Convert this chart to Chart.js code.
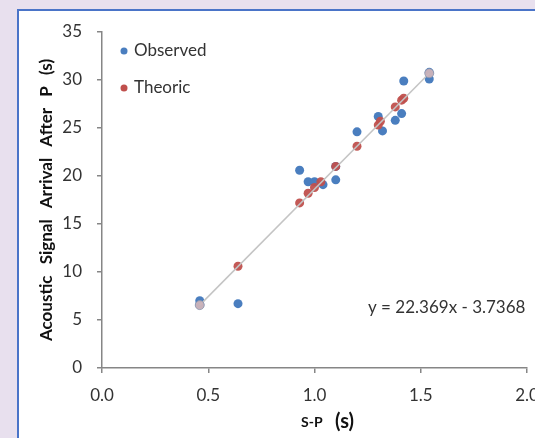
<!DOCTYPE html>
<html>
<head>
<meta charset="utf-8">
<script src="https://cdn.jsdelivr.net/npm/chart.js@4/dist/chart.umd.min.js"></script>
<style>
html,body{margin:0;padding:0;background:#e8e0ee;}
#wrap{width:535px;height:438px;position:relative;}
</style>
</head>
<body>
<div id="wrap"><canvas id="c" width="535" height="438"></canvas></div>
<script>
// ---- Data ----
const observedX = [0.46, 0.46, 0.64, 0.93, 0.97, 1.00, 1.04, 1.10, 1.10, 1.20, 1.30, 1.32, 1.38, 1.41, 1.42, 1.54, 1.54];
const observedY = [7.0, 6.6, 6.7, 20.6, 19.4, 19.4, 19.1, 19.6, 21.0, 24.6, 26.2, 24.7, 25.8, 26.5, 29.9, 30.1, 30.8];
const theoricX = [0.64, 0.93, 0.97, 1.00, 1.03, 1.10, 1.20, 1.30, 1.31, 1.38, 1.41, 1.42];
const theoricY = [10.6, 17.2, 18.2, 18.8, 19.4, 21.0, 23.1, 25.3, 25.7, 27.2, 27.9, 28.1];
const trendX = [0.46, 1.54];
const trendY = [6.55, 30.7];
const seriesNames = ["Observed", "Theoric"];
const xTicks = [0, 0.5, 1.0, 1.5, 2.0];
const yTicks = [0, 5, 10, 15, 20, 25, 30, 35];
const equationText = "y = 22.369x - 3.7368";
const xTitleMain = "S-P";
const xTitleUnit = "(s)";
const yTitle = "Acoustic Signal Arrival After P (s)";

const toPts = (xs, ys) => xs.map((x, i) => ({x: x, y: ys[i]}));
const BLUE = '#4a7ebf', RED = '#c0504d', AXIS = '#868686', TXT = '#333333';

const framePlugin = {
  id: 'frame',
  beforeDraw(chart) {
    const ctx = chart.ctx;
    ctx.save();
    ctx.fillStyle = '#e8e0ee';
    ctx.fillRect(0, 0, 535, 438);
    ctx.fillStyle = '#ffffff';
    ctx.fillRect(17, 9, 535, 438);
    ctx.fillStyle = '#4a74c8';
    ctx.fillRect(17, 9, 535, 2);
    ctx.fillRect(17, 9, 2, 438);
    ctx.restore();
  },
  afterDraw(chart) {
    const ctx = chart.ctx;
    const ys = chart.scales.y;
    ctx.save();
    // legend
    const items = [[seriesNames[0], BLUE, 51], [seriesNames[1], RED, 88]];
    ctx.font = '17px Lato';
    ctx.textBaseline = 'middle';
    ctx.textAlign = 'left';
    items.forEach(([t, c, y]) => {
      ctx.fillStyle = c;
      ctx.beginPath(); ctx.arc(124, y, 3.5, 0, Math.PI * 2); ctx.fill();
      ctx.fillStyle = TXT;
      ctx.fillText(t, 134, y);
    });
    // equation
    ctx.font = '17px Lato';
    ctx.textBaseline = 'alphabetic';
    ctx.fillText(equationText, 368, 313);
    // x title
    ctx.fillStyle = '#111111';
    ctx.font = 'bold 14px Lato';
    ctx.fillText(xTitleMain, 301, 427);
    ctx.font = 'bold 20px Lato';
    ctx.fillText(xTitleUnit, 335, 428);
    // y title
    ctx.translate(47, (ys.top + ys.bottom) / 2);
    ctx.rotate(-Math.PI / 2);
    ctx.font = 'bold 17px Lato';
    ctx.textAlign = 'center';
    ctx.textBaseline = 'middle';
    try { ctx.wordSpacing = '7px'; } catch (e) {}
    ctx.fillText(yTitle, 0, 0);
    ctx.restore();
  }
};

new Chart(document.getElementById('c'), {
  type: 'scatter',
  data: {
    datasets: [
      {label: 'Trend', type: 'line', data: toPts(trendX, trendY), borderColor: '#c4c4c4', borderWidth: 1.5,
       pointRadius: 4.5, pointBackgroundColor: 'rgba(205,180,185,0.95)', pointBorderColor: 'rgba(140,150,175,0.8)', pointBorderWidth: 1, fill: false, order: 0},
      {label: seriesNames[1], data: toPts(theoricX, theoricY), pointRadius: 4.5, pointBackgroundColor: 'rgba(192,80,77,0.95)', pointBorderColor: 'rgba(192,80,77,0.95)', pointBorderWidth: 0, order: 1},
      {label: seriesNames[0], data: toPts(observedX, observedY), pointRadius: 4.5, pointBackgroundColor: BLUE, pointBorderColor: BLUE, pointBorderWidth: 0, order: 2}
    ]
  },
  options: {
    responsive: false,
    animation: false,
    layout: {padding: {left: 62, right: 8, top: 32, bottom: 0}},
    plugins: {legend: {display: false}, tooltip: {enabled: false}},
    scales: {
      x: {
        type: 'linear', min: 0, max: 2,
        afterBuildTicks: s => { s.ticks = xTicks.map(v => ({value: v})); },
        afterFit: s => { s.height = 70; s.paddingLeft = 0; s.paddingRight = 0; },
        ticks: {color: TXT, font: {family: 'Lato', size: 17}, padding: 12, callback: v => Number(v).toFixed(1), maxRotation: 0},
        grid: {drawOnChartArea: false, drawTicks: true, tickLength: 5, color: AXIS, tickColor: AXIS, lineWidth: 1.5},
        border: {display: true, color: AXIS, width: 1.5}
      },
      y: {
        type: 'linear', min: 0, max: 35,
        afterBuildTicks: s => { s.ticks = yTicks.map(v => ({value: v})); },
        afterFit: s => { s.width = 40; s.paddingTop = 0; s.paddingBottom = 0; },
        ticks: {color: TXT, font: {family: 'Lato', size: 17}, padding: 15},
        grid: {drawOnChartArea: false, drawTicks: true, tickLength: 5, color: AXIS, tickColor: AXIS, lineWidth: 1.5},
        border: {display: true, color: AXIS, width: 1.5}
      }
    }
  },
  plugins: [framePlugin]
});
</script>
</body>
</html>
